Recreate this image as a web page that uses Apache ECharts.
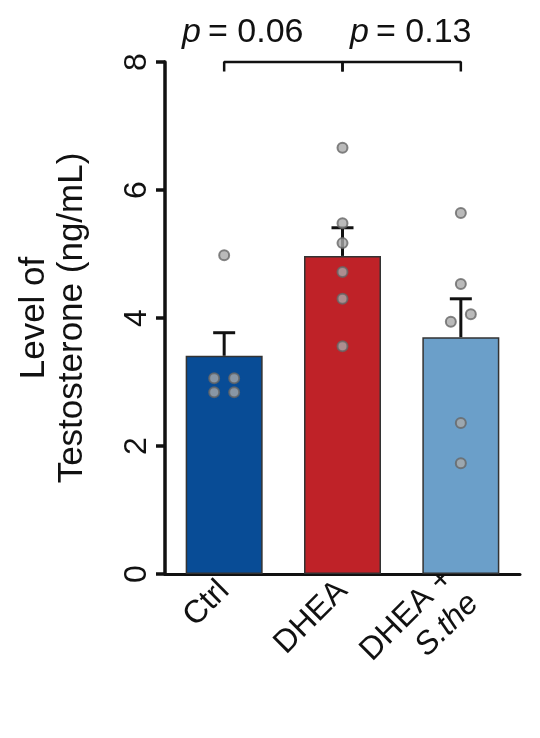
<!DOCTYPE html>
<html lang="en">
<head>
    <meta charset="UTF-8" />
    <title>Testosterone</title>
    <script src="https://cdn.jsdelivr.net/npm/echarts@6/dist/echarts.min.js"></script>
    <style>body { margin: 0; background: #fff; }</style>
</head>
<body>
    <div id="main" style="width: 540px; height: 738px"></div>
    <script type="text/javascript">
        // data
        const categories = ["Ctrl", "DHEA", "DHEA+S.the"];
        const means = [3.41, 4.97, 3.70];
        const sem = [0.36, 0.44, 0.60];
        const barColors = ["#084c96", "#bf2228", "#6b9fc9"];
        const ctrlPoints = [4.98, 3.06, 3.06, 2.84, 2.84];
        const dheaPoints = [6.66, 5.48, 5.17, 4.72, 4.30, 3.56];
        const dheaSthePoints = [5.64, 4.53, 4.06, 3.94, 2.36, 1.73];
        const ctrlOffsets = [0, -10, 10, -10, 10];
        const dheaOffsets = [0, 0, 0, 0, 0, 0];
        const dheaStheOffsets = [0, 0, 10, -10, 0, 0];
        const pTexts = ["= 0.06", "= 0.13"];

        const font = "Liberation Sans, Arial, sans-serif";
        const groups = [ctrlPoints, dheaPoints, dheaSthePoints];
        const offsets = [ctrlOffsets, dheaOffsets, dheaStheOffsets];

        let dots = [];
        groups.forEach((g, i) => g.forEach((v, j) => {
            dots.push({ value: [i, v], symbolOffset: [offsets[i][j], 0] });
        }));

        let options = {
            animation: false,
            grid: { left: 165, right: 20, top: 62, bottom: 164 },
            xAxis: {
                type: "category",
                data: categories,
                axisLine: { lineStyle: { color: "#111", width: 3 } },
                axisTick: { show: false },
                axisLabel: {
                    rotate: 45, margin: 12, fontSize: 32, color: "#111", fontFamily: font, lineHeight: 36,
                    formatter: (v) => v === "DHEA+S.the" ? "DHEA +\n{i|S.the}" : v,
                    rich: { i: { fontStyle: "italic", fontSize: 32, fontFamily: font, color: "#111" } }
                }
            },
            yAxis: {
                type: "value", min: 0, max: 8, interval: 2,
                name: "Level of\nTestosterone (ng/mL)",
                nameLocation: "middle", nameGap: 74, nameRotate: 90,
                nameTextStyle: { fontSize: 35, color: "#111", fontFamily: font, lineHeight: 38 },
                splitLine: { show: false },
                axisLine: { show: true, lineStyle: { color: "#111", width: 3.5 } },
                axisTick: { show: true, length: 9, lineStyle: { width: 3.5, color: "#111" } },
                axisLabel: { rotate: 90, fontSize: 32, color: "#111", fontFamily: font, margin: 12 }
            },
            graphic: [
                { type: "text", left: 182, top: 16, style: { text: "p", font: "italic 34px " + font, fill: "#111" } },
                { type: "text", left: 208, top: 16, style: { text: pTexts[0], font: "34px " + font, fill: "#111" } },
                { type: "text", left: 350, top: 16, style: { text: "p", font: "italic 34px " + font, fill: "#111" } },
                { type: "text", left: 376, top: 16, style: { text: pTexts[1], font: "34px " + font, fill: "#111" } }
            ],
            series: [
                {
                    type: "bar", barWidth: 77,
                    data: means.map((m, i) => ({ value: m, itemStyle: { color: barColors[i] } })),
                    itemStyle: { borderColor: "#333", borderWidth: 1.5 },
                    z: 2
                },
                {
                    type: "custom",
                    data: means.map((m, i) => [i, m, m + sem[i]]),
                    renderItem: (params, api) => {
                        const lo = api.coord([api.value(0), api.value(1)]);
                        const hi = api.coord([api.value(0), api.value(2)]);
                        return {
                            type: "group", children: [
                                { type: "line", shape: { x1: lo[0], y1: lo[1], x2: hi[0], y2: hi[1] }, style: { stroke: "#111", lineWidth: 3 } },
                                { type: "line", shape: { x1: hi[0] - 11, y1: hi[1], x2: hi[0] + 11, y2: hi[1] }, style: { stroke: "#111", lineWidth: 3 } }
                            ]
                        };
                    },
                    z: 3
                },
                {
                    type: "scatter", data: dots, symbolSize: 10,
                    itemStyle: { color: "#a9a9a9", borderColor: "#666", borderWidth: 2 },
                    z: 4
                },
                {
                    type: "line", clip: false, symbol: "none",
                    lineStyle: { color: "#111", width: 2.5 },
                    data: [[0, 7.85], [0, 8], [1, 8], [1, 7.85]].map(d => [categories[d[0]], d[1]])
                },
                {
                    type: "line", clip: false, symbol: "none",
                    lineStyle: { color: "#111", width: 2.5 },
                    data: [[1, 7.85], [1, 8], [2, 8], [2, 7.85]].map(d => [categories[d[0]], d[1]])
                }
            ]
        };

        let myChart = echarts.init(document.getElementById("main"));
        myChart.setOption(options);
    </script>
</body>
</html>
